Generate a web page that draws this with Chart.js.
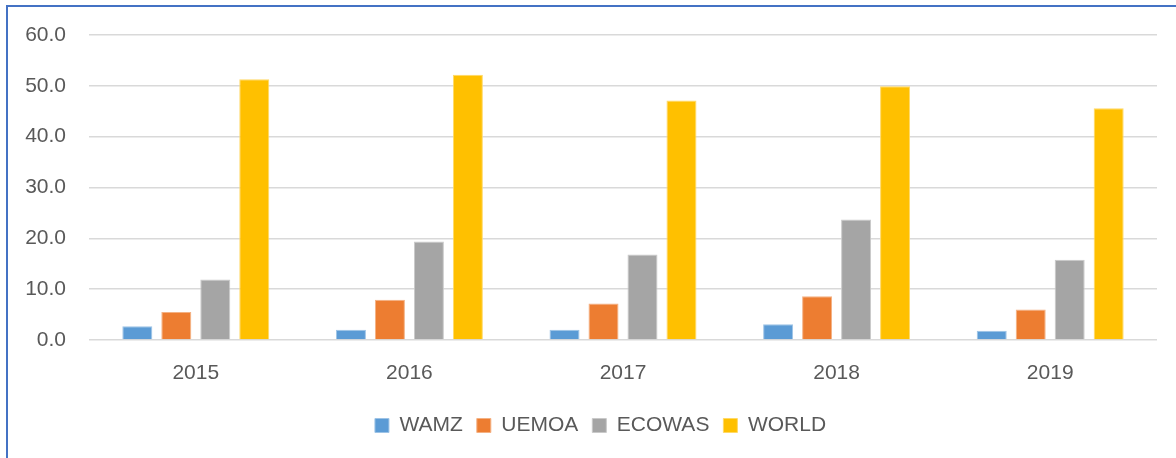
<!DOCTYPE html>
<html>
<head>
<meta charset="utf-8">
<script src="https://cdn.jsdelivr.net/npm/chart.js@4"></script>
<style>
  html, body { margin: 0; padding: 0; background: #fff; }
  #frame {
    position: absolute; left: 6px; top: 5px;
    width: 1170px; height: 453px;
    border-left: 2px solid #4472C4; border-top: 2px solid #4472C4;
  }
  #wrap { position: relative; width: 1168px; height: 451px; }
</style>
</head>
<body>
<div id="frame"><div id="wrap"><canvas id="chart"></canvas></div></div>
<script>
const years = ['2015', '2016', '2017', '2018', '2019'];
const wamz = [2.7, 2.0, 2.0, 3.1, 1.8];
const uemoa = [5.5, 7.9, 7.2, 8.6, 6.0];
const ecowas = [11.9, 19.4, 16.8, 23.7, 15.8];
const world = [51.3, 52.2, 47.1, 49.9, 45.6];
const yTicks = [0, 10, 20, 30, 40, 50, 60];

const font = { family: 'Liberation Sans', size: 21 };
const textColor = '#595959';

function series(label, data, color, edge) {
  return {
    label: label,
    data: data,
    backgroundColor: color,
    borderColor: edge,
    borderWidth: 1,
    categoryPercentage: 0.73,
    barPercentage: 0.77
  };
}

// nudge the legend so it sits centred like the original
const legendShift = {
  id: 'legendShift',
  afterLayout(chart) {
    chart.legend.left += 18;
    chart.legend.right += 18;
  }
};

new Chart(document.getElementById('chart').getContext('2d'), {
  type: 'bar',
  data: {
    labels: years,
    datasets: [
      series('WAMZ', wamz, '#5B9BD5', '#9DC3E6'),
      series('UEMOA', uemoa, '#ED7D31', '#F4B183'),
      series('ECOWAS', ecowas, '#A5A5A5', '#C9C9C9'),
      series('WORLD', world, '#FFC000', '#FFD966')
    ]
  },
  options: {
    responsive: true,
    maintainAspectRatio: false,
    animation: false,
    layout: { padding: { top: 28, right: 19, bottom: 12, left: 0 } },
    scales: {
      x: {
        grid: { display: false, drawTicks: false },
        border: { display: false },
        ticks: { font: font, color: textColor, padding: 21 },
        afterFit: (axis) => { axis.height = 61; axis.paddingLeft = 0; axis.paddingRight = 0; }
      },
      y: {
        min: 0,
        max: 60,
        afterBuildTicks: (axis) => { axis.ticks = yTicks.map(v => ({ value: v })); },
        grid: { color: '#D9D9D9', lineWidth: 1.6, drawTicks: false },
        border: { display: false },
        ticks: {
          font: font,
          color: textColor,
          padding: 23,
          callback: (v) => v.toFixed(1)
        },
        afterFit: (axis) => { axis.width = 81; axis.paddingTop = 0; axis.paddingBottom = 0; }
      }
    },
    plugins: {
      legend: {
        position: 'bottom',
        labels: {
          font: font,
          color: textColor,
          boxWidth: 14,
          boxHeight: 14,
          padding: 14
        }
      },
      tooltip: { enabled: false }
    }
  },
  plugins: [legendShift]
});
</script>
</body>
</html>
